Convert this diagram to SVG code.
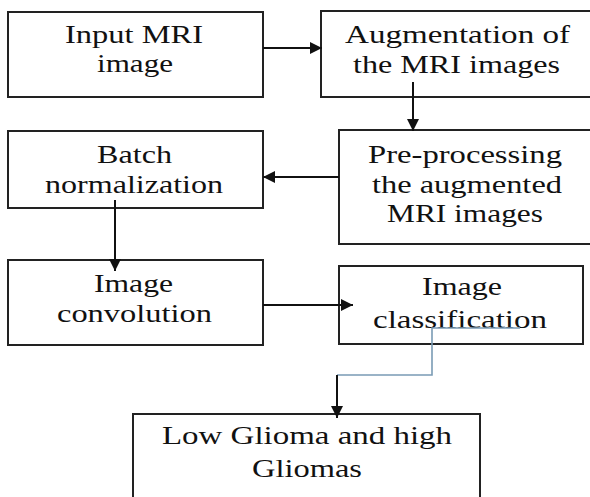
<svg xmlns="http://www.w3.org/2000/svg" width="590" height="497" viewBox="0 0 590 497">
<defs>
<marker id="ah" markerUnits="userSpaceOnUse" markerWidth="14" markerHeight="14" refX="12" refY="6" orient="auto">
<path d="M0,0 L12,6 L0,12 Z" fill="#111"/>
</marker>
<style>
.box{fill:#fff;stroke:#222;stroke-width:2}
.t{font-family:'Liberation Serif',Times,serif;font-size:25px;fill:#111}
.c{fill:none;stroke:#111;stroke-width:2}
.b{fill:none;stroke:#7a9bb5;stroke-width:1.6}
</style>
</defs>
<rect width="590" height="497" fill="#fff"/>
<g id="n1">
<rect class="box" x="8" y="12" width="255" height="85"/>
<text class="t" x="65" y="43" textLength="138" lengthAdjust="spacingAndGlyphs">Input MRI</text>
<text class="t" x="97" y="72" textLength="76" lengthAdjust="spacingAndGlyphs">image</text>
</g>
<g id="n2">
<rect class="box" x="321" y="11" width="290" height="86"/>
<text class="t" x="345" y="43" textLength="225" lengthAdjust="spacingAndGlyphs">Augmentation of</text>
<text class="t" x="353" y="73" textLength="207" lengthAdjust="spacingAndGlyphs">the MRI images</text>
</g>
<g id="n3">
<rect class="box" x="339" y="130" width="270" height="114"/>
<text class="t" x="368" y="163" textLength="194" lengthAdjust="spacingAndGlyphs">Pre-processing</text>
<text class="t" x="372" y="193" textLength="190" lengthAdjust="spacingAndGlyphs">the augmented</text>
<text class="t" x="387" y="222" textLength="156" lengthAdjust="spacingAndGlyphs">MRI images</text>
</g>
<g id="n4">
<rect class="box" x="8" y="131" width="255" height="77"/>
<text class="t" x="97" y="163" textLength="75" lengthAdjust="spacingAndGlyphs">Batch</text>
<text class="t" x="45" y="193" textLength="178" lengthAdjust="spacingAndGlyphs">normalization</text>
</g>
<g id="n5">
<rect class="box" x="8" y="260" width="255" height="85"/>
<text class="t" x="94" y="292" textLength="79" lengthAdjust="spacingAndGlyphs">Image</text>
<text class="t" x="57" y="322" textLength="155" lengthAdjust="spacingAndGlyphs">convolution</text>
</g>
<g id="n6">
<rect class="box" x="339" y="266" width="244" height="78"/>
<text class="t" x="422" y="295" textLength="80" lengthAdjust="spacingAndGlyphs">Image</text>
<text class="t" x="373" y="328" textLength="174" lengthAdjust="spacingAndGlyphs">classification</text>
</g>
<g id="n7">
<rect class="box" x="133" y="414" width="347" height="100"/>
<text class="t" x="162" y="444" textLength="290" lengthAdjust="spacingAndGlyphs">Low Glioma and high</text>
<text class="t" x="252" y="477" textLength="110" lengthAdjust="spacingAndGlyphs">Gliomas</text>
</g>
<g id="connectors">
<line class="c" x1="263" y1="48" x2="322" y2="48" marker-end="url(#ah)"/>
<line class="c" x1="413" y1="82" x2="413" y2="131" marker-end="url(#ah)"/>
<line class="c" x1="339" y1="177" x2="263" y2="177" marker-end="url(#ah)"/>
<line class="c" x1="115" y1="200" x2="115" y2="271" marker-end="url(#ah)"/>
<line class="c" x1="263" y1="305" x2="353" y2="305" marker-end="url(#ah)"/>
<polyline class="b" points="520,328 432,328 432,375 337,375"/>
<line class="c" x1="337" y1="375" x2="337" y2="418" marker-end="url(#ah)"/>
</g>
</svg>
